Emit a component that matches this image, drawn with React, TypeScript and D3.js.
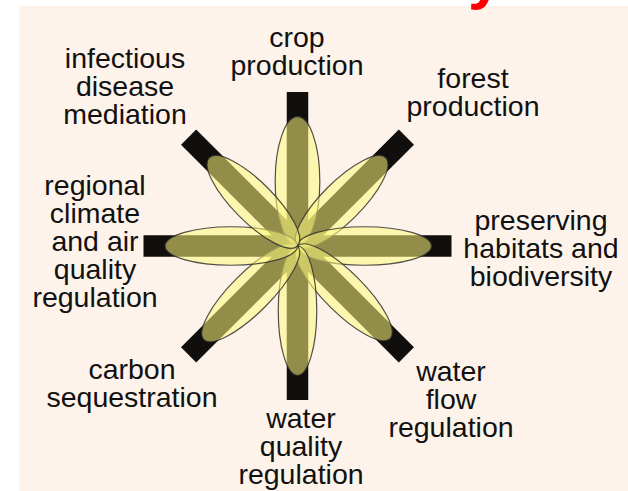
import React from 'react';
import * as d3 from 'd3';

// services, clockwise from the top
const services = [
  ['crop', 'production'],
  ['forest', 'production'],
  ['preserving', 'habitats and', 'biodiversity'],
  ['water', 'flow', 'regulation'],
  ['water', 'quality', 'regulation'],
  ['carbon', 'sequestration'],
  ['regional', 'climate', 'and air', 'quality', 'regulation'],
  ['infectious', 'disease', 'mediation'],
];
// petal length (bar = 1) and petal breadth
const petalLength = [0.84, 0.81, 0.87, 0.85, 0.84, 0.86, 0.86, 0.81];
const petalBreadth = [0.29, 0.26, 0.25, 0.26, 0.25, 0.26, 0.25, 0.26];

// label anchors (centre x, first baseline y)
const labelPos = [
  [297, 47], [473, 88], [541, 230], [451, 381],
  [301, 428], [132, 379], [95, 195], [125, 68],
];

const W = 628;
const H = 491;
const CX = 297.5;
const CY = 246;
const LINE = 28;

export default function App() {
  const r = d3.scaleLinear().domain([0, 1]).range([0, 154]);
  const ang = d3.scaleLinear().domain([0, services.length]).range([0, 360]);
  const barW = 21.5;

  return (
    <svg width={W} height={H} style={{ position: 'absolute', left: 0, top: 0 }}>
      <rect x={0} y={0} width={W} height={H} fill="#ffffff" />
      <rect x={19} y={6} width={W - 19} height={H - 6} fill="#fdf3ea" />

      <g transform={`translate(${CX},${CY})`}>
        {services.map((s, i) => (
          <rect key={'bar' + i}
            x={-barW / 2} y={-r(1)} width={barW} height={r(1)}
            fill="#100f0d"
            transform={`rotate(${ang(i)})`} />
        ))}
        {petalLength.map((v, i) => (
          <ellipse key={'petal' + i}
            cx={0} cy={-r(v) / 2} rx={r(petalBreadth[i]) / 2} ry={r(v) / 2}
            fill="#fdf77e" fillOpacity={0.55}
            stroke="#33332f" strokeWidth={1.2} strokeOpacity={0.85}
            transform={`rotate(${ang(i)})`} />
        ))}
      </g>

      {services.map((lines, i) => (
        <text key={'lab' + i}
          x={labelPos[i][0]} y={labelPos[i][1]}
          textAnchor="middle"
          fontFamily="'Liberation Sans', Arial, sans-serif"
          fontSize={28.5} fill="#111">
          {lines.map((t, j) => (
            <tspan key={j} x={labelPos[i][0]} dy={j === 0 ? 0 : LINE}>{t}</tspan>
          ))}
        </text>
      ))}

      <text x={468} y={-3} fontFamily="'Liberation Sans', Arial, sans-serif"
        fontSize={62} fontWeight="bold" fill="#ff0000">y</text>
    </svg>
  );
}
